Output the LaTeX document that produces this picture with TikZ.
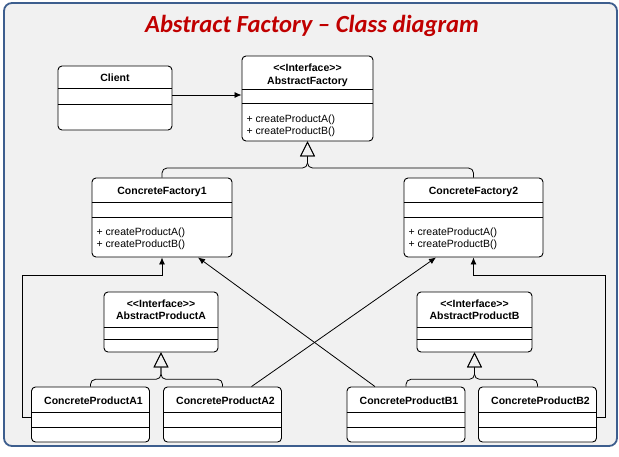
\documentclass[tikz,border=0pt]{standalone}
\usepackage{fontspec}
\setmainfont{Liberation Sans}
\newfontfamily\titlefont{Carlito}
\usetikzlibrary{calc,arrows.meta}

\definecolor{bggray}{HTML}{F1F1F1}
\definecolor{frameblue}{HTML}{3D5E8E}
\definecolor{titlered}{HTML}{C00000}

\tikzset{
  cls/.style={draw=black, fill=white, rounded corners=4pt, line width=0.9pt, inner sep=0pt},
  clsname/.style={font=\fontsize{10.5}{12}\selectfont\bfseries, inner sep=0pt, anchor=base},
  meth/.style={font=\fontsize{10.5}{12}\selectfont, inner sep=0pt, anchor=base west},
  assoc/.style={-{Latex[length=7pt,width=6pt]}, line width=0.8pt},
  inherit/.style={-{Triangle[open,length=15pt,width=15pt]}, line width=0.8pt, rounded corners=5pt}
}

\begin{document}
\begin{tikzpicture}[x=1pt,y=-1pt]
    \useasboundingbox (0,0) rectangle (619,456);

    % Frame and title
    \draw[frameblue, fill=bggray, line width=1.8pt, rounded corners=8pt] (4,3) rectangle (617,446);
    \node[font=\titlefont\bfseries\itshape\fontsize{24.6}{28}\selectfont, text=titlered, anchor=base, inner sep=0pt]
        (title) at (312,32) {Abstract Factory – Class diagram};

    % Client
    \node[cls, minimum width=114pt, minimum height=64pt] (client) at (115,98) {};
    \node[clsname] (client-t) at (115,81) {Client};
    \draw (client.west |- 0,88.3) -- (client.east |- 0,88.3);
    \draw (client.west |- 0,104) -- (client.east |- 0,104);

    % AbstractFactory
    \node[cls, minimum width=131pt, minimum height=85pt] (af) at (307.5,98.5) {};
    \node[clsname] (af-s) at (307.5,71) {{<}{<}Interface{>}{>}};
    \node[clsname] (af-t) at (307.5,84.5) {AbstractFactory};
    \draw (af.west |- 0,89.3) -- (af.east |- 0,89.3);
    \draw (af.west |- 0,103.3) -- (af.east |- 0,103.3);
    \node[meth] (af-m1) at (246.5,122) {+ createProductA()};
    \node[meth] (af-m2) at (246.5,134) {+ createProductB()};

    % Concrete factories
    \node[cls, minimum width=140pt, minimum height=79pt] (cf1) at (162,217.5) {};
    \node[clsname] (cf1-t) at (162,194.5) {ConcreteFactory1};
    \draw (cf1.west |- 0,201.7) -- (cf1.east |- 0,201.7);
    \draw (cf1.west |- 0,216.7) -- (cf1.east |- 0,216.7);
    \node[meth] (cf1-m1) at (96.5,235.5) {+ createProductA()};
    \node[meth] (cf1-m2) at (96.5,247.3) {+ createProductB()};

    \node[cls, minimum width=139pt, minimum height=79pt] (cf2) at (473.5,217.5) {};
    \node[clsname] (cf2-t) at (473.5,194.5) {ConcreteFactory2};
    \draw (cf2.west |- 0,201.7) -- (cf2.east |- 0,201.7);
    \draw (cf2.west |- 0,216.7) -- (cf2.east |- 0,216.7);
    \node[meth] (cf2-m1) at (408.5,235.5) {+ createProductA()};
    \node[meth] (cf2-m2) at (408.5,247.3) {+ createProductB()};

    % Abstract products
    \node[cls, minimum width=114pt, minimum height=60pt] (apa) at (161,322) {};
    \node[clsname] (apa-s) at (161,307.5) {{<}{<}Interface{>}{>}};
    \node[clsname] (apa-t) at (161,319) {AbstractProductA};
    \draw (apa.west |- 0,326.7) -- (apa.east |- 0,326.7);
    \draw (apa.west |- 0,339) -- (apa.east |- 0,339);

    \node[cls, minimum width=115pt, minimum height=60pt] (apb) at (474.5,322) {};
    \node[clsname] (apb-s) at (474.5,307.5) {{<}{<}Interface{>}{>}};
    \node[clsname] (apb-t) at (474.5,319) {AbstractProductB};
    \draw (apb.west |- 0,326.7) -- (apb.east |- 0,326.7);
    \draw (apb.west |- 0,339) -- (apb.east |- 0,339);

    % Concrete products
    \foreach \n/\cx/\t in {cpa1/90.5/ConcreteProductA1, cpa2/222.5/ConcreteProductA2,
                           cpb1/406/ConcreteProductB1, cpb2/537.5/ConcreteProductB2} {
      \node[cls, minimum width=118pt, minimum height=55pt] (\n) at (\cx,414.5) {};
      \node[clsname] (\n-t) at (\cx+3,404) {\t};
      \draw (\n.west |- 0,411.7) -- (\n.east |- 0,411.7);
      \draw (\n.west |- 0,426.7) -- (\n.east |- 0,426.7);
    }

    % Bend points
    \coordinate (fjoin) at (307.5,168);
    \coordinate (ajoin) at (161,379.3);
    \coordinate (bjoin) at (474.5,379.3);
    \coordinate (lbend) at (22.7,275);
    \coordinate (rbend) at (605,275);

    % Association Client -> AbstractFactory
    \draw[assoc] (client.east |- 0,95) -- (af.west |- 0,95);

    % Generalizations
    \draw[inherit] (cf1.north) |- (fjoin) -- (af.south);
    \draw[inherit] (cf2.north) |- (fjoin) -- (af.south);
    \draw[inherit] (cpa1.north) |- (ajoin) -- (apa.south);
    \draw[inherit] (cpa2.north) |- (ajoin) -- (apa.south);
    \draw[inherit] (cpb1.north) |- (bjoin) -- (apb.south);
    \draw[inherit] (cpb2.north) |- (bjoin) -- (apb.south);

    % Products -> factories
    \draw[assoc] (cpa1.west |- 0,417) -| (lbend) -| (cf1.south);
    \draw[assoc] (cpb2.east |- 0,417) -| (rbend) -| (cf2.south);
    \draw[assoc] ($(cpa2.north)+(29,0)$) -- ($(cf2.south)+(-37.5,0)$);
    \draw[assoc] ($(cpb1.north)+(-31,0)$) -- ($(cf1.south)+(36,0)$);
\end{tikzpicture}
\end{document}
